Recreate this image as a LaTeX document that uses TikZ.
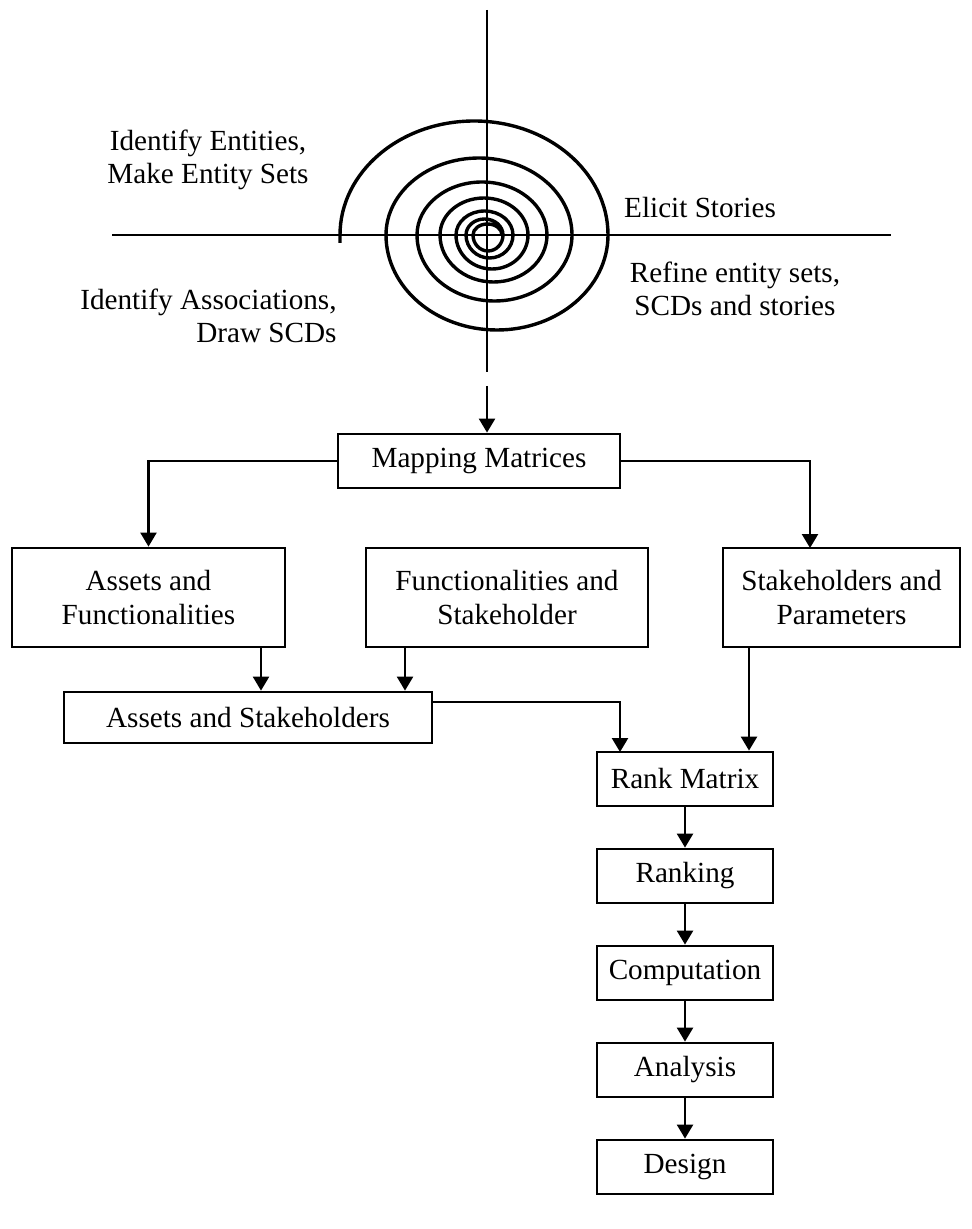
\documentclass[tikz,border=0pt]{standalone}
\usepackage{fontspec}
\setmainfont{Liberation Serif}
\usetikzlibrary{arrows.meta,calc}
\begin{document}
\begin{tikzpicture}[x=0.5pt,y=-0.5pt,
  font=\fontsize{14.6}{16.8}\selectfont,
  box/.style={draw,line width=1.4pt,inner sep=0pt,align=center},
  conn/.style={line width=1.2pt},
  arr/.style={conn,-{Triangle[length=7pt,width=8pt]}},
  axis/.style={line width=1.2pt},
  spiral/.style={line width=1.7pt},
  lbl/.style={inner sep=0pt,align=center}]
\useasboundingbox (0,0) rectangle (971,1229);

% axes of the spiral model
\coordinate (vt) at (487,10);
\coordinate (vb) at (487,372);
\coordinate (hl) at (112,235);
\coordinate (hr) at (891,235);
\draw[axis] (vt) -- (vb);
\draw[axis] (hl) -- (hr);

% spiral built from alternating half ellipses
\draw[spiral] (340,243) -- (340,235)
  arc[start angle=180,end angle=360,x radius=134,y radius=114]
  arc[start angle=0,end angle=180,x radius=111,y radius=95]
  arc[start angle=180,end angle=360,x radius=93,y radius=77]
  arc[start angle=0,end angle=180,x radius=77.5,y radius=66]
  arc[start angle=180,end angle=360,x radius=65,y radius=53]
  arc[start angle=0,end angle=180,x radius=53.5,y radius=47]
  arc[start angle=180,end angle=360,x radius=44,y radius=37]
  arc[start angle=0,end angle=180,x radius=36,y radius=34]
  arc[start angle=180,end angle=360,x radius=28.5,y radius=24]
  arc[start angle=0,end angle=180,x radius=23.5,y radius=23]
  arc[start angle=180,end angle=360,x radius=18.5,y radius=16]
  arc[start angle=0,end angle=180,x radius=15,y radius=16]
  arc[start angle=180,end angle=360,x radius=14.5,y radius=11];

% quadrant labels
\node[lbl] (ent) at (208,160) {Identify Entities,\\Make Entity Sets};
\node[lbl] (eli) at (700,208) {Elicit Stories};
\node[lbl] (ref) at (735,289) {Refine entity sets,\\SCDs and stories};
\node[lbl,align=right,anchor=east] (ass) at (337,316) {Identify Associations,\\Draw SCDs};

% boxes
\node[box,minimum width=141pt,minimum height=27pt] (mm) at (479,461) {Mapping Matrices};
\node[box,minimum width=136.5pt,minimum height=49.5pt] (af) at (148.5,597.5) {Assets and\\Functionalities};
\node[box,minimum width=141pt,minimum height=49.5pt] (fs) at (507,597.5) {Functionalities and\\Stakeholder};
\node[box,minimum width=118.5pt,minimum height=49.5pt] (sp) at (841.5,597.5) {Stakeholders and\\Parameters};
\node[box,minimum width=184pt,minimum height=25.5pt] (as) at (248,717.5) {Assets and Stakeholders};
\node[box,minimum width=88pt,minimum height=27pt] (rm) at (685,779) {Rank Matrix};
\node[box,minimum width=88pt,minimum height=27pt] (rk) at (685,876) {Ranking};
\node[box,minimum width=88pt,minimum height=27pt] (cp) at (685,973) {Computation};
\node[box,minimum width=88pt,minimum height=27pt] (an) at (685,1070) {Analysis};
\node[box,minimum width=88pt,minimum height=27pt] (ds) at (685,1167) {Design};

% connectors
\coordinate (ax) at (487,386);
\draw[arr] (ax) -- (ax |- mm.north);

\draw[arr] (mm.west) -| (af.north);
\coordinate (spin) at (810,548);
\draw[arr] (mm.east) -| (spin);

\coordinate (afout) at (261,647);
\draw[arr] (afout) -- (afout |- as.north);
\coordinate (fsout) at (405,647);
\draw[arr] (fsout) -- (fsout |- as.north);

\coordinate (asout) at (432,702);
\coordinate (rmin) at (620,752);
\draw[arr] (asout) -| (rmin);
\coordinate (spout) at (749,647);
\draw[arr] (spout) -- (spout |- rm.north);

\draw[arr] (rm) -- (rk);
\draw[arr] (rk) -- (cp);
\draw[arr] (cp) -- (an);
\draw[arr] (an) -- (ds);
\end{tikzpicture}
\end{document}
